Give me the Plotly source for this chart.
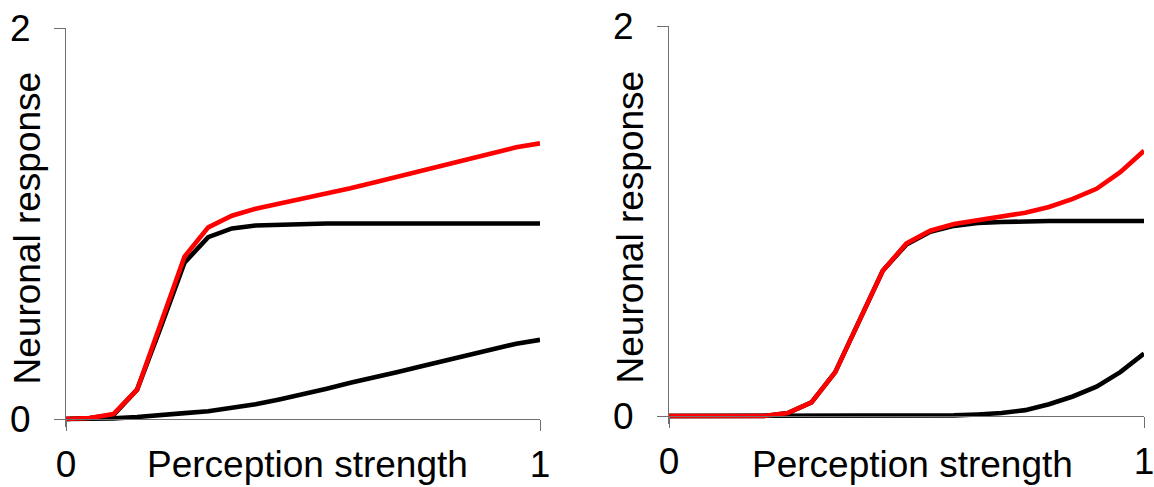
import plotly.graph_objects as go

# Perception strength samples
x_vals = [0.0, 0.05, 0.1, 0.15, 0.2, 0.25, 0.3, 0.35, 0.4, 0.45, 0.5,
          0.55, 0.6, 0.65, 0.7, 0.75, 0.8, 0.85, 0.9, 0.95, 1.0]

# Left panel
left_red = [0, 0.005, 0.025, 0.15, 0.49, 0.83, 0.98, 1.04, 1.075, 1.10, 1.13,
            1.155, 1.18, 1.21, 1.24, 1.27, 1.30, 1.33, 1.36, 1.39, 1.41]
left_black_high = [0, 0.005, 0.02, 0.15, 0.47, 0.80, 0.93, 0.975, 0.99, 0.995, 1.0,
                   1.0, 1.0, 1.0, 1.0, 1.0, 1.0, 1.0, 1.0, 1.0, 1.0]
left_black_low = [0, 0, 0.003, 0.01, 0.018, 0.03, 0.04, 0.055, 0.075, 0.1, 0.125,
                  0.155, 0.185, 0.21, 0.24, 0.27, 0.30, 0.33, 0.36, 0.385, 0.405]

# Right panel
right_red = [0, 0, 0, 0, 0, 0.015, 0.07, 0.225, 0.49, 0.745, 0.885,
             0.95, 0.985, 1.003, 1.02, 1.042, 1.072, 1.113, 1.165, 1.25, 1.36]
right_black_high = [0, 0, 0, 0, 0, 0.015, 0.07, 0.225, 0.49, 0.745, 0.88,
                    0.945, 0.975, 0.99, 0.995, 1.0, 1.0, 1.0, 1.0, 1.0, 1.0]
right_black_low = [0, 0, 0, 0, 0, 0, 0, 0, 0, 0, 0,
                   0, 0.003, 0.008, 0.015, 0.03, 0.06, 0.1, 0.15, 0.225, 0.32]

x_ticks = [0, 1]
x_ticktext = ["0", "1"]
y_ticks = [0, 2]
y_ticktext = ["0", "2"]
x_title = "Perception strength"
y_title = "Neuronal response"

FONT = "Liberation Sans, Arial, sans-serif"
AXIS_COLOR = "#707070"
LW = 4.6

fig = go.Figure()

def add_panel(xa, ya, low, high, red):
    fig.add_trace(go.Scatter(x=x_vals, y=low, mode="lines", xaxis=xa, yaxis=ya,
                             line=dict(color="black", width=LW), showlegend=False,
                             hoverinfo="skip"))
    fig.add_trace(go.Scatter(x=x_vals, y=high, mode="lines", xaxis=xa, yaxis=ya,
                             line=dict(color="black", width=LW), showlegend=False,
                             hoverinfo="skip"))
    fig.add_trace(go.Scatter(x=x_vals, y=red, mode="lines", xaxis=xa, yaxis=ya,
                             line=dict(color="#ff0000", width=LW), showlegend=False,
                             hoverinfo="skip"))

add_panel("x", "y", left_black_low, left_black_high, left_red)
add_panel("x2", "y2", right_black_low, right_black_high, right_red)

W, H = 1154, 487

def px_x(p):
    return p / W

def px_y(p):
    return (H - p) / H

common_x = dict(range=[0, 1], tickvals=x_ticks, ticktext=x_ticktext, showline=True,
                linecolor=AXIS_COLOR, linewidth=1, ticks="outside", ticklen=11,
                tickwidth=1, tickcolor=AXIS_COLOR, showgrid=False, zeroline=False,
                tickfont=dict(family=FONT, size=37, color="black"),
                ticklabelstandoff=2, ticklabeloverflow="allow",
                fixedrange=True, automargin=False)
common_y = dict(range=[-0.04, 2], tickvals=y_ticks, ticktext=y_ticktext, showline=True,
                linecolor=AXIS_COLOR, linewidth=1, ticks="outside", ticklen=11,
                tickwidth=1, tickcolor=AXIS_COLOR, showgrid=False, zeroline=False,
                tickfont=dict(family=FONT, size=37, color="black"),
                ticklabelstandoff=16, ticklabeloverflow="allow",
                fixedrange=True, automargin=False)

# left: x 66..540, y0=419, y2=28 ; right: x 669..1144, y0=416, y2=26
fig.update_layout(
    width=W, height=H,
    margin=dict(l=0, r=0, t=0, b=0, autoexpand=False),
    paper_bgcolor="white", plot_bgcolor="white",
    font=dict(family=FONT, size=37, color="black"),
    xaxis=dict(common_x, domain=[px_x(66), px_x(540)], anchor="free",
               position=px_y(419)),
    yaxis=dict(common_y, domain=[px_y(419 + 0.04 * 195.5), px_y(28)], anchor="x"),
    xaxis2=dict(common_x, domain=[px_x(669), px_x(1144)], anchor="free",
                position=px_y(416)),
    yaxis2=dict(common_y, domain=[px_y(416 + 0.04 * 195), px_y(26)], anchor="x2"),
    annotations=[
        dict(text=x_title, xref="paper", yref="paper", x=px_x(307.5), y=px_y(464),
             xanchor="center", yanchor="middle", showarrow=False,
             font=dict(family=FONT, size=37, color="black")),
        dict(text=x_title, xref="paper", yref="paper", x=px_x(912), y=px_y(464),
             xanchor="center", yanchor="middle", showarrow=False,
             font=dict(family=FONT, size=37, color="black")),
        dict(text=y_title, xref="paper", yref="paper", x=px_x(27), y=px_y(228.5),
             xanchor="center", yanchor="middle", showarrow=False, textangle=-90,
             font=dict(family=FONT, size=37, color="black")),
        dict(text=y_title, xref="paper", yref="paper", x=px_x(630), y=px_y(226.5),
             xanchor="center", yanchor="middle", showarrow=False, textangle=-90,
             font=dict(family=FONT, size=37, color="black")),
    ],
)

fig.write_html("out.html")
